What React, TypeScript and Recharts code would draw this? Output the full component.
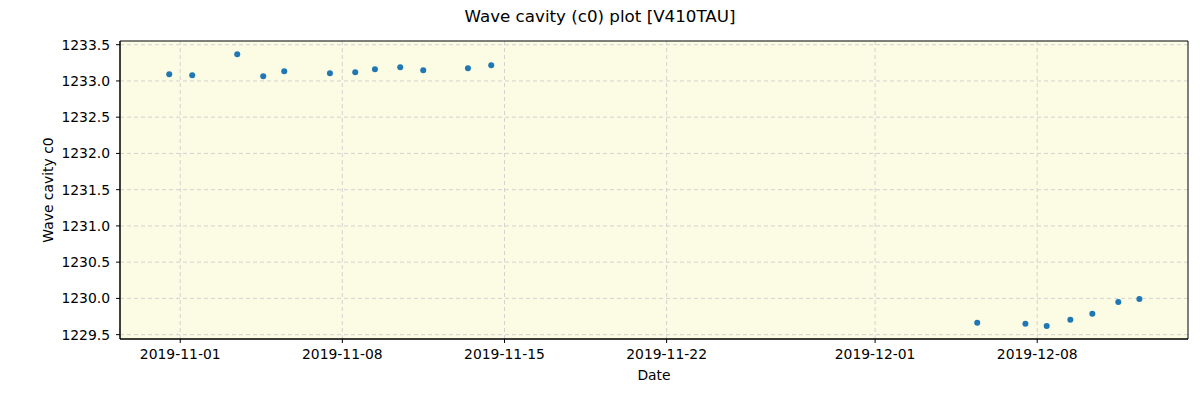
import React from 'react';
import { ScatterChart, Scatter, XAxis, YAxis, CartesianGrid, ReferenceArea } from 'recharts';

// observation times (UTC) and the fitted c0 value
const obsTimes = [
  '2019-10-31T12:36', '2019-11-01T12:26', '2019-11-03T11:04', '2019-11-04T14:01',
  '2019-11-05T11:47', '2019-11-07T11:08', '2019-11-08T13:20', '2019-11-09T09:46',
  '2019-11-10T11:59', '2019-11-11T11:48', '2019-11-13T10:08', '2019-11-14T10:16',
  '2019-12-05T09:50', '2019-12-07T11:46', '2019-12-08T09:50', '2019-12-09T10:19',
  '2019-12-10T09:07', '2019-12-11T12:00', '2019-12-12T09:50',
];
const c0Values = [
  1233.092, 1233.078, 1233.367, 1233.064,
  1233.133, 1233.105, 1233.119, 1233.160,
  1233.188, 1233.147, 1233.174, 1233.216,
  1229.663, 1229.649, 1229.621, 1229.704,
  1229.787, 1229.952, 1229.993,
];

const xTickDates = ['2019-11-01', '2019-11-08', '2019-11-15', '2019-11-22', '2019-12-01', '2019-12-08'];
const yTicks = [1229.5, 1230.0, 1230.5, 1231.0, 1231.5, 1232.0, 1232.5, 1233.0, 1233.5];

const DAY = 86400000;
const toMs = (s: string) => Date.parse(s + (s.length > 10 ? ':00Z' : 'T00:00:00Z'));
const origin = toMs('2019-11-01');
const xDomain = [origin - 2.6 * DAY, origin + 43.51 * DAY];
const yDomain = [1229.44, 1233.551];

const data = obsTimes.map((t, i) => ({ t: toMs(t), c0: c0Values[i] }));
const xTicks = xTickDates.map(toMs);

const fmtDate = (v: number) => new Date(v).toISOString().slice(0, 10);
const font = 'DejaVu Sans, sans-serif';

const Dot = (props: any) => <circle cx={props.cx} cy={props.cy} r={3} fill="#1f77b4" />;

export default function App() {
  return (
    <div style={{ position: 'absolute', left: 0, top: 0, width: 1200, height: 400, background: '#fff', fontFamily: font }}>
      <div style={{ position: 'absolute', top: 6, width: 1200, textAlign: 'center', fontSize: 16.7, color: '#000' }}>
        Wave cavity (c0) plot [V410TAU]
      </div>
      <ScatterChart width={1200} height={400} margin={{ top: 41, right: 12, bottom: 0, left: 0 }}>
        <CartesianGrid fill="#fcfbe3" stroke="#d3d3d3" strokeDasharray="4 3" horizontalValues={yTicks} verticalValues={xTicks} />
        <XAxis
          dataKey="t"
          type="number"
          scale="linear"
          domain={xDomain}
          ticks={xTicks}
          tickFormatter={fmtDate}
          height={61}
          tickSize={4}
          tickMargin={6}
          axisLine={{ stroke: '#000' }}
          tickLine={{ stroke: '#000' }}
          tick={{ fill: '#000', fontSize: 13.9, fontFamily: font }}
          allowDataOverflow
          label={{
            content: () => (
              <text x={654} y={380} textAnchor="middle" fontSize={13.9} fontFamily={font} fill="#000">Date</text>
            ),
          }}
        />
        <YAxis
          dataKey="c0"
          type="number"
          domain={yDomain}
          ticks={yTicks}
          tickFormatter={(v: number) => v.toFixed(1)}
          width={120}
          tickSize={4}
          tickMargin={6}
          axisLine={{ stroke: '#000' }}
          tickLine={{ stroke: '#000' }}
          tick={{ fill: '#000', fontSize: 13.9, fontFamily: font }}
          allowDataOverflow
          label={{
            content: () => (
              <text x={53} y={190} transform="rotate(-90 53 190)" textAnchor="middle" fontSize={13.9} fontFamily={font} fill="#000">
                Wave cavity c0
              </text>
            ),
          }}
        />
        <ReferenceArea x1={xDomain[0]} x2={xDomain[1]} y1={yDomain[0]} y2={yDomain[1]} fill="none" stroke="#000" strokeWidth={1} ifOverflow="visible" />
        <Scatter data={data} shape={Dot} isAnimationActive={false} />
      </ScatterChart>
    </div>
  );
}
